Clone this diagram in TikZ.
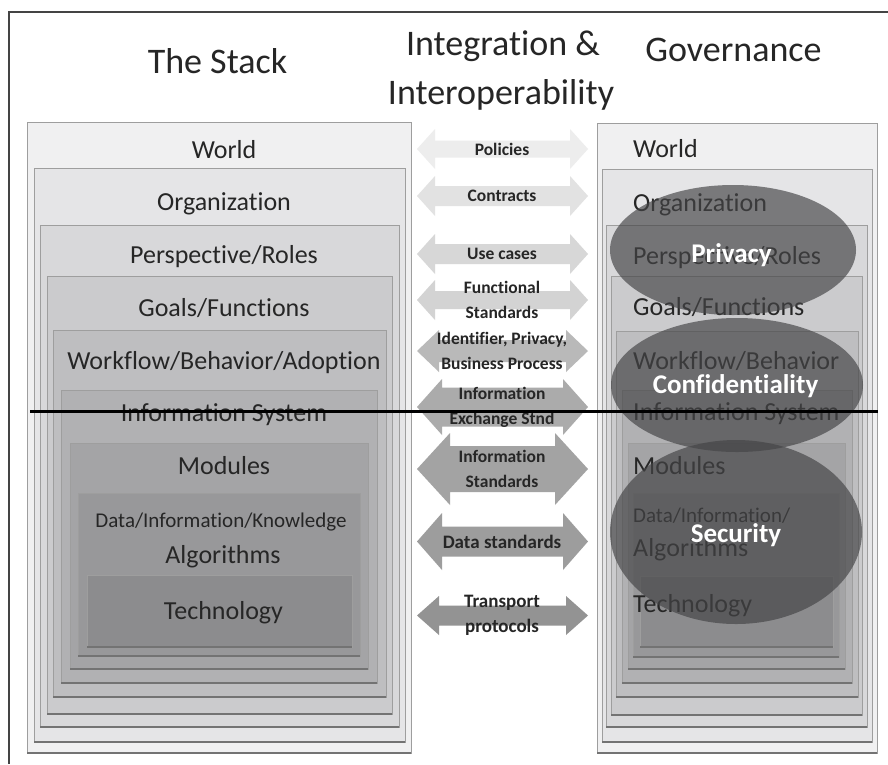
\documentclass[tikz,border=0pt]{standalone}
\usepackage{fontspec}
\setmainfont{Carlito}[Ligatures=NoCommon]
\definecolor{txt}{HTML}{262626}
\definecolor{frame}{HTML}{444444}
\definecolor{c1}{HTML}{F0F0F1}
\definecolor{c2}{HTML}{E5E5E7}
\definecolor{c3}{HTML}{D8D8DA}
\definecolor{c4}{HTML}{CBCBCD}
\definecolor{c5}{HTML}{BEBEC0}
\definecolor{c6}{HTML}{B1B1B3}
\definecolor{c7}{HTML}{A4A4A6}
\definecolor{c8}{HTML}{98989A}
\definecolor{c9}{HTML}{8C8C8E}
\definecolor{a1}{HTML}{EDEDED}
\definecolor{a2}{HTML}{E2E2E2}
\definecolor{a3}{HTML}{D7D7D7}
\definecolor{a4}{HTML}{D3D3D3}
\definecolor{a5}{HTML}{B9B9B9}
\definecolor{a6}{HTML}{ABABAB}
\definecolor{a7}{HTML}{A3A3A3}
\definecolor{a8}{HTML}{9D9D9D}
\definecolor{a9}{HTML}{939393}
\definecolor{ellc}{HTML}{444446}
\tikzset{
  boxedge/.style={draw=black!38, line width=0.8pt},
  boxshadow/.style={draw=black!55, line width=1.4pt},
  lablbl/.style={text=txt, inner sep=0pt, font=\fontsize{26}{31}\selectfont},
  smalllbl/.style={text=txt, inner sep=0pt, font=\fontsize{21}{25}\selectfont},
  titlelbl/.style={text=txt, inner sep=0pt, font=\fontsize{36}{48}\selectfont},
  arrlab/.style={text=txt, inner sep=0pt, align=center},
  ellst/.style={fill=ellc, fill opacity=0.67},
  elllbl/.style={text=white, inner sep=0pt, font=\bfseries\fontsize{27}{32}\selectfont},
  framest/.style={draw=frame, line width=1.3pt},
  cutline/.style={draw=black, line width=3pt}
}
\newcommand\stackrect[5]{%
  \fill[#5] (#1,#2) rectangle (#3,#4);
  \draw[boxedge] (#1,#2) rectangle (#3,#4);
  \draw[boxshadow] (#1,#4) -- (#3,#4);}
\newcommand\dblarr[8]{%
  \fill[#6] (417,#2) -- (417+#5,#2-#3) -- (417+#5,#2-#4) -- (588-#5,#2-#4)
    -- (588-#5,#2-#3) -- (588,#2) -- (588-#5,#2+#3) -- (588-#5,#2+#4)
    -- (417+#5,#2+#4) -- (417+#5,#2+#3) -- cycle;
  \node[arrlab, font=\bfseries\fontsize{#7}{25}\selectfont] (#1) at (502,#2) {#8};}
\begin{document}
\begin{tikzpicture}[x=1pt,y=-1pt]
\useasboundingbox (0,0) rectangle (888,764);
\fill[white] (0,0) rectangle (888,764);
\draw[framest] (888,12) -- (9,12) -- (9,764);

% titles
\node[titlelbl, anchor=base] (tstack) at (217.5,73) {The Stack};
\node[titlelbl, anchor=base] (tint1) at (503,55) {Integration \&};
\node[titlelbl, anchor=base] (tint2) at (501,104) {Interoperability};
\node[titlelbl, anchor=base] (tgov) at (733.5,61) {Governance};

% left stack
\stackrect{27}{122}{411}{753}{c1}
\stackrect{34}{168}{405}{742}{c2}
\stackrect{40}{225}{399}{727}{c3}
\stackrect{47}{276}{392}{714}{c4}
\stackrect{53}{330}{386}{697}{c5}
\stackrect{61}{390}{377}{683}{c6}
\stackrect{70}{443}{368}{669}{c7}
\stackrect{78}{493}{360}{656}{c8}
\stackrect{87}{575}{352}{647}{c9}
\node[lablbl, anchor=base] (lworld) at (224,158) {World};
\node[lablbl, anchor=base] (lorg) at (224,210) {Organization};
\node[lablbl, anchor=base] (lpersp) at (224,263) {Perspective/Roles};
\node[lablbl, anchor=base] (lgoals) at (224,316) {Goals/Functions};
\node[lablbl, anchor=base] (lwork) at (224,369) {Workflow/Behavior/Adoption};
\node[lablbl, anchor=base] (linfo) at (224,421) {Information System};
\node[lablbl, anchor=base] (lmod) at (224,474) {Modules};
\node[smalllbl, anchor=base] (ldata) at (221,527) {Data/Information/Knowledge};
\node[lablbl, anchor=base] (lalg) at (223,563) {Algorithms};
\node[lablbl, anchor=base] (ltech) at (223.5,619) {Technology};

% right stack
\stackrect{597}{123}{877}{753}{c1}
\stackrect{602}{169}{872}{742}{c2}
\stackrect{606}{225}{867}{727}{c3}
\stackrect{611}{276}{862}{715}{c4}
\stackrect{616}{331}{858}{697}{c5}
\stackrect{622}{390}{852}{683}{c6}
\stackrect{628}{443}{845}{669}{c7}
\stackrect{633}{493}{839}{657}{c8}
\stackrect{640}{576}{833}{647}{c9}
\node[lablbl, anchor=base west] (rworld) at (633,157) {World};
\node[lablbl, anchor=base west] (rorg) at (633,211) {Organization};
\node[lablbl, anchor=base west] (rpersp) at (633,264) {Perspective/Roles};
\node[lablbl, anchor=base west] (rgoals) at (633,315) {Goals/Functions};
\node[lablbl, anchor=base west] (rwork) at (633,369) {Workflow/Behavior};
\begin{scope}
\clip (622,390) rectangle (852,683);
\node[lablbl, anchor=base west] (rinfo) at (633,420) {Information System};
\end{scope}
\node[lablbl, anchor=base west] (rmod) at (633,474) {Modules};
\node[smalllbl, anchor=base west] (rdata) at (633,522) {Data/Information/};
\node[lablbl, anchor=base west] (ralg) at (633,556) {Algorithms};
\node[lablbl, anchor=base west] (rtech) at (633,612) {Technology};

% ellipses
\fill[ellst] (733,250) ellipse [x radius=123pt, y radius=65pt];
\fill[ellst] (737,385) ellipse [x radius=126pt, y radius=67pt];
\fill[ellst] (736,532) ellipse [x radius=126pt, y radius=92pt];
\node[elllbl, anchor=base] (privacy) at (731.5,262) {Privacy};
\node[elllbl, anchor=base] (conf) at (735.5,393) {Confidentiality};
\node[elllbl, anchor=base] (sec) at (736,542) {Security};

% arrows
\dblarr{apol}{149}{20}{8.5}{18}{a1}{17.5}{Policies}
\dblarr{acon}{196}{20}{10}{18}{a2}{17.5}{Contracts}
\dblarr{ause}{254}{20}{10}{18}{a3}{17.5}{Use cases}
\dblarr{afun}{300}{20}{9}{18}{a4}{17.5}{Functional\\Standards}
\dblarr{aid}{351}{21}{11}{22}{a5}{17.5}{Identifier, Privacy,\\Business Process}
\dblarr{aexc}{407}{28}{19.5}{25}{a6}{17.5}{Information\\Exchange Stnd}
\dblarr{aistd}{469}{36}{23}{33}{a7}{17.5}{Information\\Standards}
\dblarr{adata}{541.5}{28.5}{15}{25}{a8}{19}{Data standards}
\dblarr{atrans}{615.5}{19.5}{10}{22}{a9}{19}{Transport\\protocols}

% cut line
\coordinate (cutL) at (30,411);
\coordinate (cutR) at (878,411);
\draw[cutline] (cutL) -- (cutR);
\end{tikzpicture}
\end{document}
